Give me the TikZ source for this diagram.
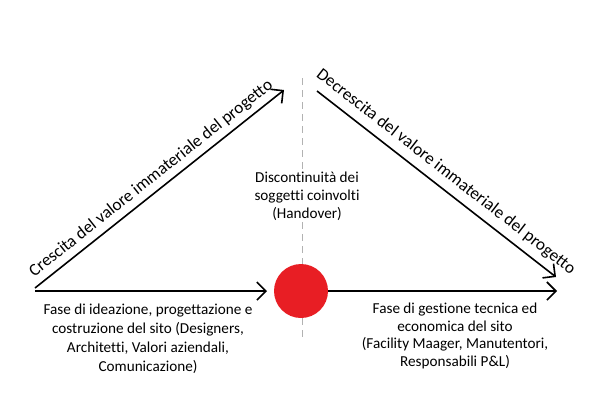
\documentclass[tikz,border=0pt]{standalone}
\usepackage{fontspec}
\setmainfont[Ligatures=NoCommon]{Carlito}
\usetikzlibrary{arrows.meta}
\begin{document}
\begin{tikzpicture}[x=1pt,y=-1pt,
  conn/.style={line width=1.6pt,-{Straight Barb[length=9pt,width=18pt,line width=1.6pt]}},
  lbl/.style={font=\fontsize{15.2}{19}\selectfont,align=center,inner sep=1pt},
  rlbl/.style={font=\fontsize{15.2}{17.5}\selectfont,align=center,inner sep=1pt},
  hlbl/.style={font=\fontsize{15.2}{18}\selectfont,align=center,inner sep=1pt},
  slbl/.style={font=\fontsize{17.2}{20}\selectfont,inner sep=0pt},
  dashline/.style={gray!60,line width=0.8pt,dash pattern=on 7pt off 5pt}]
\useasboundingbox (0,0) rectangle (601,400);
\coordinate (dtop) at (302,78);
\coordinate (dbot) at (302,341);
\draw[dashline] (dtop) -- (dbot);
\node[hlbl,fill=white] (hand) at (307,196) {Discontinuità dei\\soggetti coinvolti\\(Handover)};
\coordinate (ls) at (35,288);
\coordinate (le) at (284,90);
\coordinate (rs) at (317,91);
\coordinate (re) at (556,277);
\node[circle,fill={rgb,255:red,232;green,30;blue,36},minimum size=54pt,inner sep=0pt] (dot) at (301,291) {};
\draw[conn] (ls) -- node[slbl,sloped,above=5pt] (tl) {Crescita del valore immateriale del progetto} (le);
\draw[conn] (rs) -- node[slbl,sloped,above=7pt] (tr) {Decrescita del valore immateriale del progetto} (re);
\coordinate (bs) at (35,291);
\coordinate (be) at (267,291);
\draw[conn] (bs) -- (be);
\coordinate (ce) at (557,291);
\draw[conn] (dot.east) -- (ce);
\node[lbl] (ltxt) at (148,339) {Fase di ideazione, progettazione e\\costruzione del sito (Designers,\\Architetti, Valori aziendali,\\Comunicazione)};
\node[rlbl] (rtxt) at (455,336) {Fase di gestione tecnica ed\\economica del sito\\(Facility Maager, Manutentori,\\Responsabili P\&L)};
\end{tikzpicture}
\end{document}
